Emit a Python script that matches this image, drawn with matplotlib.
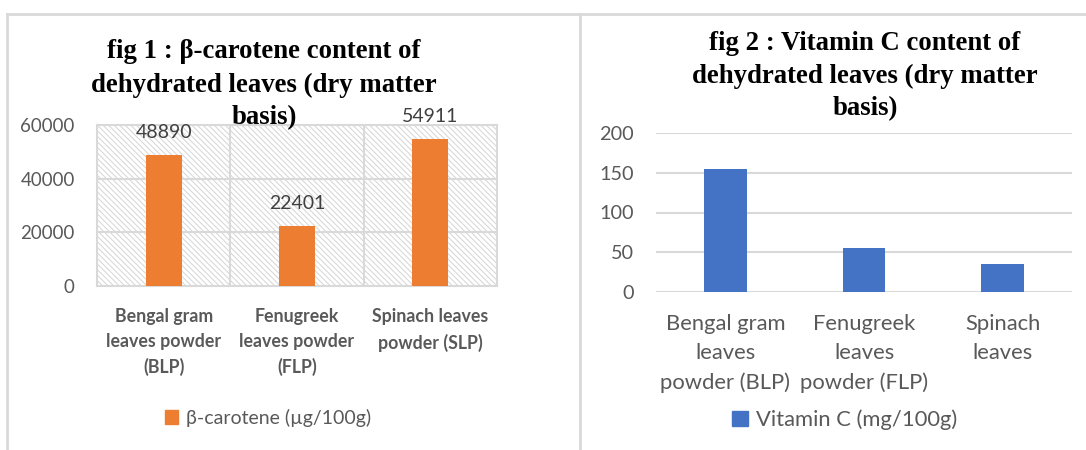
import matplotlib.pyplot as plt
from matplotlib.patches import Rectangle
from matplotlib.lines import Line2D

# data
beta_labels = ["Bengal gram\nleaves powder\n(BLP)", "Fenugreek\nleaves powder\n(FLP)", "Spinach leaves\npowder (SLP)"]
beta_values = [48890, 22401, 54911]
beta_ticks = [0, 20000, 40000, 60000]
beta_title = ["fig 1 : β-carotene content of", "dehydrated leaves (dry matter", "basis)"]

vitc_labels = ["Bengal gram\nleaves\npowder (BLP)", "Fenugreek\nleaves\npowder (FLP)", "Spinach\nleaves"]
vitc_values = [155, 55, 35]
vitc_ticks = [0, 50, 100, 150, 200]
vitc_title = ["fig 2 : Vitamin C content of", "dehydrated leaves (dry matter", "basis)"]

orange = "#ED7D31"
blue = "#4472C4"
grid = "#d9d9d9"
txt = "#595959"

plt.rcParams['font.family'] = ['Lato', 'DejaVu Sans']
plt.rcParams['hatch.linewidth'] = 0.7
plt.rcParams['hatch.color'] = "#d4d4d4"

fig = plt.figure(figsize=(10.86, 4.5), dpi=100)

# panel borders
for l in [Line2D([7/1086, 1], [1-14/450]*2),
          Line2D([7/1086]*2, [0, 1-14/450]),
          Line2D([579.5/1086]*2, [0, 1-14/450])]:
    l.set_color("#d9d9d9")
    l.set_linewidth(2)
    l.set_transform(fig.transFigure)
    fig.add_artist(l)


def title_lines(xc, y0, lines):
    # one text per line, 33 px apart
    for i, s in enumerate(lines):
        fig.text(xc/1086, 1-(y0 + 33*i)/450, s, family="Liberation Serif", fontweight="bold",
                 fontsize=19.3, ha="center", va="center", zorder=5)


# fig 1
ax1 = fig.add_axes([97/1086, 1-286/450, 400/1086, 161/450])
ax1.add_patch(Rectangle((0, 0), 1, 1, transform=ax1.transAxes, facecolor="white",
                        edgecolor="#d4d4d4", hatch="\\\\\\\\\\\\", lw=0, zorder=0))
x = range(len(beta_values))
bars = ax1.bar(x, beta_values, width=0.27, color=orange, zorder=3)
ax1.bar_label(bars, labels=[str(v) for v in beta_values], padding=10, fontsize=14, color="#404040")
ax1.set_xlim(-0.5, 2.5)
ax1.set_ylim(0, 60000)
ax1.set_yticks(beta_ticks)
ax1.set_xticks(list(x))
ax1.set_xticklabels(beta_labels, fontsize=12.8, fontweight="bold", color=txt, linespacing=1.55)
ax1.tick_params(axis="y", length=0, pad=16, labelsize=13.5, labelcolor=txt)
ax1.tick_params(axis="x", length=0, pad=16)
for yv in beta_ticks[1:-1]:
    ax1.axhline(yv, color=grid, lw=1.5, zorder=1)
for xv in [0.5, 1.5]:
    ax1.axvline(xv, color=grid, lw=1.5, zorder=1)
for s in ax1.spines.values():
    s.set_color(grid)
    s.set_linewidth(1.5)
title_lines(264, 52, beta_title)

# fig 2
ax2 = fig.add_axes([656/1086, 1-292/450, 416/1086, 159/450])
bars2 = ax2.bar(range(len(vitc_values)), vitc_values, width=0.31, color=blue, zorder=3)
ax2.set_xlim(-0.5, 2.5)
ax2.set_ylim(0, 200)
ax2.set_yticks(vitc_ticks)
ax2.set_xticks(range(len(vitc_values)))
ax2.set_xticklabels(vitc_labels, fontsize=15.8, color=txt, linespacing=1.55)
ax2.tick_params(axis="y", length=0, pad=16, labelsize=14.3, labelcolor=txt)
ax2.tick_params(axis="x", length=0, pad=16)
for yv in vitc_ticks:
    ax2.axhline(yv, color=grid, lw=1.5, zorder=1)
for s in ax2.spines.values():
    s.set_visible(False)
title_lines(865, 43, vitc_title)

# legends
fig.legend(handles=[Rectangle((0, 0), 1, 1, color=orange)], labels=["β-carotene (µg/100g)"],
           loc="center", bbox_to_anchor=(268/1086, 1-418/450), frameon=False, fontsize=14,
           labelcolor=txt, handlelength=0.7, handleheight=0.7, handletextpad=0.4)
fig.legend(handles=[Rectangle((0, 0), 1, 1, color=blue)], labels=["Vitamin C (mg/100g)"],
           loc="center", bbox_to_anchor=(845/1086, 1-420/450), frameon=False, fontsize=15.8,
           labelcolor=txt, handlelength=0.7, handleheight=0.7, handletextpad=0.4)

fig.savefig("out.png", dpi=100)
